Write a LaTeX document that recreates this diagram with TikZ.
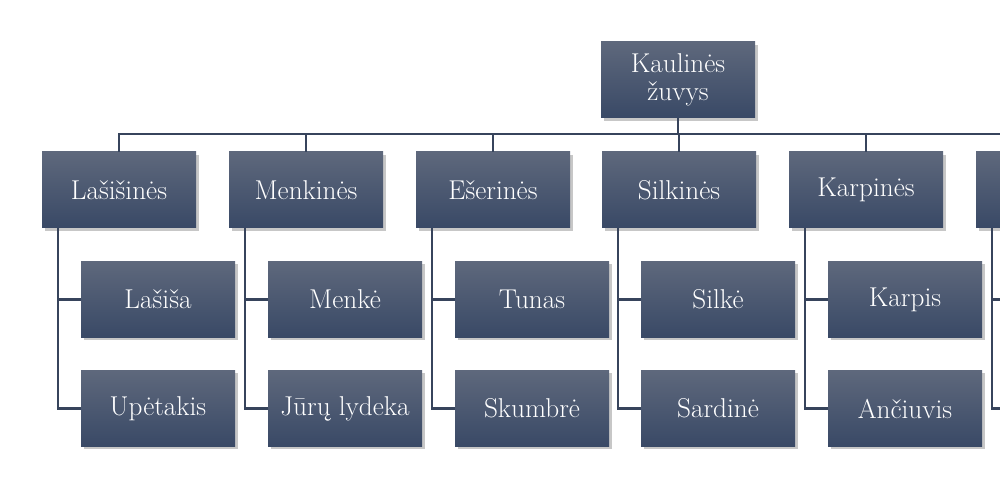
\documentclass[tikz,border=0pt]{standalone}
\usetikzlibrary{shadows}

\definecolor{boxtop}{RGB}{94,104,124}
\definecolor{boxbot}{RGB}{57,73,102}
\definecolor{linkcol}{RGB}{55,68,92}

\begin{document}
\begin{tikzpicture}
  [every node/.style={rectangle,minimum width=3.08cm,minimum height=1.52cm,
     top color=boxtop,bottom color=boxbot,text=white,align=center,
     font=\fontsize{15.5}{18}\selectfont,
     drop shadow={shadow xshift=0.05cm,shadow yshift=-0.06cm,opacity=.4,fill=black!55}},
   link/.style={draw=linkcol,line width=1.2pt}]
  \useasboundingbox (0,0) rectangle (20,9.96);
  \clip (0,0) rectangle (20,9.96);

  \node (root) at (13.56,8.36) {Kaulinės\\[-2pt]žuvys};

  \node (f1) at (2.38,6.16)  {Lašišinės};
  \node (f2) at (6.12,6.16)  {Menkinės};
  \node (f3) at (9.86,6.16)  {Ešerinės};
  \node (f4) at (13.58,6.16) {Silkinės};
  \node (f5) at (17.32,6.16) {Karpinės};
  \node (f6) at (21.06,6.16) {};

  \node (c1a) at (3.16,3.97)  {Lašiša};
  \node (c1b) at (3.16,1.79)  {Upėtakis};
  \node (c2a) at (6.90,3.97)  {Menkė};
  \node (c2b) at (6.90,1.79)  {Jūrų lydeka};
  \node (c3a) at (10.64,3.97) {Tunas};
  \node (c3b) at (10.64,1.79) {Skumbrė};
  \node (c4a) at (14.36,3.97) {Silkė};
  \node (c4b) at (14.36,1.79) {Sardinė};
  \node (c5a) at (18.10,3.97) {Karpis};
  \node (c5b) at (18.10,1.79) {Ančiuvis};
  \node (c6a) at (21.84,3.97) {};
  \node (c6b) at (21.84,1.79) {};

\foreach \to in {f1,f2,f3,f4,f5,f6}
    \draw[link] (root.south) -- ++(0,-0.32) -| (\to.north);
\foreach \from/\to in
{f1/c1a, f1/c1b, f2/c2a, f2/c2b, f3/c3a, f3/c3b,
 f4/c4a, f4/c4b, f5/c5a, f5/c5b, f6/c6a, f6/c6b}
    \draw[link] ([xshift=0.32cm]\from.south west) |- (\to.west);
\end{tikzpicture}
\end{document}
